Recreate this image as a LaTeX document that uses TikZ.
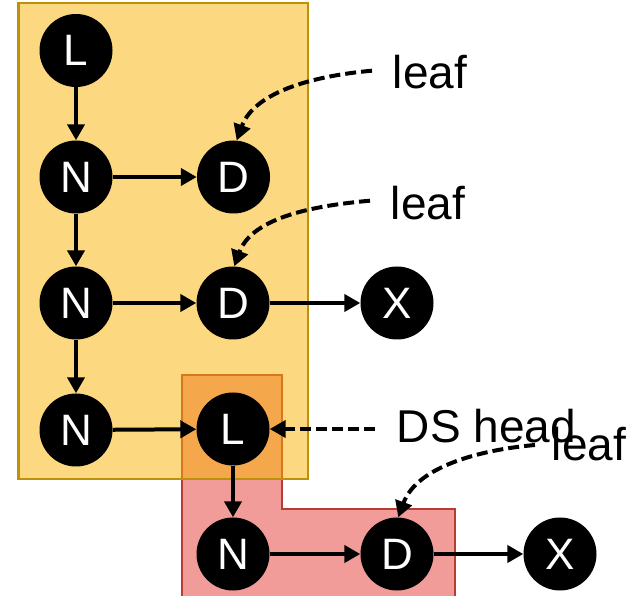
\documentclass[tikz,border=0pt]{standalone}
\usepackage{fontspec}
\setmainfont{Liberation Sans}
\usetikzlibrary{arrows.meta}
\definecolor{yfill}{RGB}{249,179,1}
\definecolor{ydraw}{RGB}{190,145,10}
\definecolor{rfill}{RGB}{241,156,153}
\definecolor{rdraw}{RGB}{184,60,50}
\begin{document}
\begin{tikzpicture}[x=1pt,y=-1pt,
  vnode/.style={circle,fill=black,minimum size=73pt,inner sep=0pt,text=white,font=\fontsize{44}{44}\selectfont},
  lbl/.style={anchor=base west,inner sep=0pt,font=\fontsize{46}{46}\selectfont},
  arr/.style={line width=4pt,-{Triangle[length=16pt,width=17pt]}},
  darr/.style={arr,dash pattern=on 11pt off 5pt}]
\useasboundingbox (0,0) rectangle (641,596);
\clip (0,0) rectangle (641,596);
% regions
\filldraw[fill=rfill,draw=rdraw,line width=2.2pt] (181.7,375) -- (281.7,375) -- (281.7,509) -- (455,509) -- (455,600) -- (181.7,600) -- cycle;
\fill[yfill,fill opacity=0.5] (18.5,3.3) rectangle (307.7,479);
\draw[ydraw,line width=2.2pt] (18.5,3.3) rectangle (307.7,479);
% nodes
\node[vnode] (L1) at (76,50.5) {L};
\node[vnode] (N1) at (76,177) {N};
\node[vnode] (D1) at (233.5,177) {D};
\node[vnode] (N2) at (76,303) {N};
\node[vnode] (D2) at (233,303) {D};
\node[vnode] (X1) at (397,303) {X};
\node[vnode] (N3) at (76,430) {N};
\node[vnode] (L2) at (233,429) {L};
\node[vnode] (N4) at (233,554) {N};
\node[vnode] (D3) at (397,554) {D};
\node[vnode] (X2) at (560,554) {X};
% labels
\node[lbl] (lf1) at (392.7,88.3) {leaf};
\node[lbl] (lf2) at (390.7,219.3) {leaf};
\node[lbl] (dsh) at (396.7,443) {DS head};
\node[lbl] (lf3) at (551.7,461) {leaf};
% solid edges
\draw[arr] (L1) -- (N1);
\draw[arr] (N1) -- (D1);
\draw[arr] (N1) -- (N2);
\draw[arr] (N2) -- (D2);
\draw[arr] (D2) -- (X1);
\draw[arr] (N2) -- (N3);
\draw[arr] (N3) -- (L2);
\draw[arr] (L2) -- (N4);
\draw[arr] (N4) -- (D3);
\draw[arr] (D3) -- (X2);
% dashed pointers
\coordinate (s1) at (372,70.7);
\coordinate (s2) at (370,200.7);
\coordinate (s3) at (375,429);
\coordinate (s4) at (535,445);
\draw[darr] (s1) to[out=185,in=70,looseness=0.9] (D1.85);
\draw[darr] (s2) to[out=185,in=70,looseness=0.9] (D2.88);
\draw[darr] (s3) -- (L2);
\draw[darr] (s4) to[out=185,in=70,looseness=0.9] (D3.88);
\end{tikzpicture}
\end{document}
